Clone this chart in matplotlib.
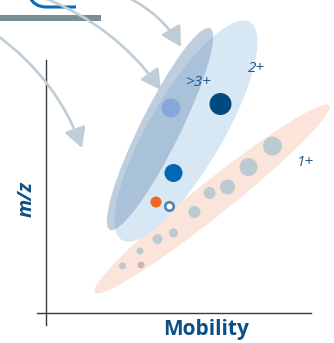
import numpy as np
import matplotlib
matplotlib.use("Agg")
import matplotlib.pyplot as plt
from matplotlib.patches import Ellipse, FancyArrowPatch, Rectangle, PathPatch
from matplotlib.path import Path

# ------------------------------- DATA ------------------------------- #
# charge-state bands: (mobility, m/z) centre, length, width, tilt
band_names = ["1+", "2+", ">3+"]
band_mob = [16.55, 13.95, 11.35]
band_mz = [11.4, 18.2, 18.4]
band_len = [30.0, 25.3, 22.5]
band_wid = [3.4, 7.4, 4.0]
band_tilt = [38.6, 59.6, 63.6]

label_mob = [25.9, 20.95, 15.25]
label_mz = [15.1, 24.5, 23.1]

# singly charged ions (grey spots)
ion1_mob = [22.6, 20.2, 18.1, 16.3, 14.8, 12.7, 11.1, 9.35, 9.45, 7.6]
ion1_mz = [16.7, 14.6, 12.6, 12.0, 10.1, 8.0, 7.4, 6.2, 4.8, 4.7]
ion1_int = [19, 18, 15, 12, 12, 9, 10, 7, 7, 7]

# multiply charged ions
ionm_mob = [12.45, 17.4, 12.7, 10.95]
ionm_mz = [20.5, 20.9, 14.0, 11.1]
ionm_int = [19, 22, 18, 11]

# the open marker
open_mob = [12.2]
open_mz = [10.7]

# ------------------------------ STYLE ------------------------------- #
band_colors = ["#fbe5da", "#d7e7f4", "#7d9fbf"]
band_alpha = [1.0, 1.0, 0.5]
ion1_colors = ["#bccbd2"] * 8 + ["#c6b8b4", "#bccbd2"]
ionm_colors = ["#84a9d9", "#004a80", "#0068b4", "#f26522"]
label_color = "#1d5a8f"
title_color = "#0b4f86"
arrow_color = "#bfcdd6"

W, H = 334, 343
fig = plt.figure(figsize=(W / 100, H / 100), dpi=100)

# plot area, 1 unit = 10 px in both directions
ax = fig.add_axes((46.5 / W, 30 / H, 264.5 / W, 253 / H))
ax.set_xlim(0, 26.45)
ax.set_ylim(0, 25.3)
ax.axis("off")

for i in range(len(band_names)):
    ax.add_patch(Ellipse((band_mob[i], band_mz[i]), band_len[i], band_wid[i],
                         angle=band_tilt[i], facecolor=band_colors[i],
                         alpha=band_alpha[i], edgecolor="none", zorder=1,
                         clip_on=False))
    ax.text(label_mob[i], label_mz[i], band_names[i], color=label_color,
            fontsize=11, style="italic", family="Open Sans",
            ha="center", va="center", zorder=5)

px2s = lambda d: (np.asarray(d) * 0.72) ** 2
ax.scatter(ion1_mob, ion1_mz, s=px2s(ion1_int), c=ion1_colors,
           linewidths=0, zorder=3)
ax.scatter(ionm_mob, ionm_mz, s=px2s(ionm_int), c=ionm_colors,
           linewidths=0, zorder=3)
ax.scatter(open_mob, open_mz, s=px2s(8.5), facecolors="white",
           edgecolors="#5b7fb0", linewidths=1.9, zorder=4)

# axis lines, crossing a bit past each other
ax.plot([0, 0], [-1.2, 25.3], color="#3a3a3a", lw=1.0, clip_on=False)
ax.plot([-0.95, 26.45], [0, 0], color="#3a3a3a", lw=1.0, clip_on=False)

fig.text(206.5 / W, 1 - 330 / H, "Mobility", color=title_color,
         fontsize=15, fontweight="bold", family="Open Sans",
         ha="center", va="center")
fig.text(27 / W, 1 - 199 / H, "m/z", color=title_color, fontsize=14.5,
         fontweight="bold", style="italic", family="Open Sans",
         rotation=90, ha="center", va="center")

# ------------------------ decoration overlay ------------------------ #
ov = fig.add_axes((0, 0, 1, 1), zorder=3)
ov.set_xlim(0, W)
ov.set_ylim(H, 0)
ov.axis("off")
ov.patch.set_alpha(0)

ov.add_patch(Rectangle((0, 14.5), 101, 6, facecolor="#7b8d99",
                       edgecolor="none"))
peak = Path([(29, -4), (34, 7), (46, 7), (76, 7)],
            [Path.MOVETO, Path.CURVE3, Path.CURVE3, Path.LINETO])
ov.add_patch(PathPatch(peak, facecolor="none", edgecolor="#0a6bb8", lw=2.2))

arrow_start = [(-2, 36), (42, -3), (127, -3)]
arrow_end = [(82, 148), (161, 90), (181, 47)]
for a, b in zip(arrow_start, arrow_end):
    ov.add_patch(FancyArrowPatch(a, b, connectionstyle="arc3,rad=-0.15",
                                 arrowstyle="-|>,head_length=1.0,head_width=0.55",
                                 mutation_scale=12, color=arrow_color,
                                 lw=1.9, shrinkA=0, shrinkB=0))

fig.savefig("out.png", dpi=100)
